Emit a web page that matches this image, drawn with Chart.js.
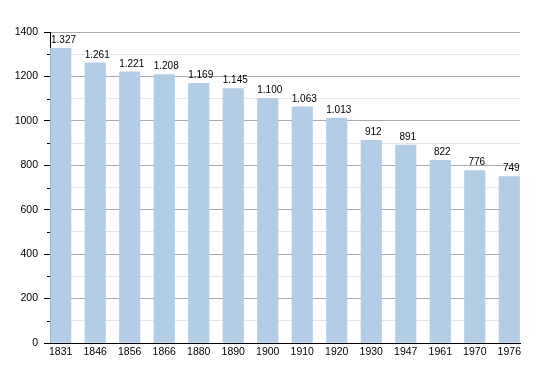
<!DOCTYPE html>
<html><head><meta charset="utf-8">
<script src="https://cdn.jsdelivr.net/npm/chart.js@4/dist/chart.umd.min.js"></script>
<style>html,body{margin:0;padding:0;background:#fff}#w{width:550px;height:373px}</style>
</head><body><div id="w"><canvas id="c"></canvas></div>
<script>
const years = ['1831','1846','1856','1866','1880','1890','1900','1910','1920','1930','1947','1961','1970','1976'];
const population = [1327,1261,1221,1208,1169,1145,1100,1063,1013,912,891,822,776,749];
const yMin = 0, yMax = 1400, yStep = 100, yLabelStep = 200;

const FONT = 'Liberation Sans, Arial, Helvetica, sans-serif';
function fmt(v){ return String(v).replace(/\B(?=(\d{3})+(?!\d))/g, '.'); }

const labelPlugin = {
  id: 'lbl',
  afterDraw(chart){
    const ctx = chart.ctx, meta = chart.getDatasetMeta(0), y = chart.scales.y;
    ctx.save();
    ctx.font = '10px ' + FONT;
    ctx.fillStyle = '#000';
    ctx.textAlign = 'left';
    ctx.textBaseline = 'bottom';
    meta.data.forEach((el, i) => {
      const t = fmt(population[i]);
      const w = ctx.measureText(t).width;
      let x = el.x - w / 2 + 2;
      if (x < chart.chartArea.left + 1) x = chart.chartArea.left + 1;
      ctx.fillText(t, x, el.y - 3);
    });
    ctx.strokeStyle = '#000';
    ctx.lineWidth = 1;
    for (let v = yMin; v <= yMax; v += yStep) {
      if (v % yLabelStep === 0) continue;
      const py = Math.round(y.getPixelForValue(v)) + 0.5;
      ctx.beginPath(); ctx.moveTo(y.right - 3, py); ctx.lineTo(y.right, py); ctx.stroke();
    }
    ctx.restore();
  }
};

new Chart(document.getElementById('c'), {
  type: 'bar',
  data: {
    datasets: [{
      data: population.map((v, i) => ({x: i, y: v})),
      backgroundColor: '#b3cde6',
      borderWidth: 0,
      barThickness: 20.5
    }]
  },
  options: {
    responsive: true, maintainAspectRatio: false, animation: false,
    devicePixelRatio: 1,
    layout: {padding: {top: 32, right: 30, left: 0, bottom: 0}},
    plugins: {legend: {display: false}, tooltip: {enabled: false}},
    scales: {
      x: {
        type: 'linear', min: -0.31, max: 13.31, offset: false,
        afterBuildTicks: (s) => { s.ticks = years.map((_, i) => ({value: i})); },
        afterFit: (s) => { s.height = 30; },
        grid: {display: false, drawTicks: false},
        border: {display: true, color: '#000', width: 1},
        ticks: {
          autoSkip: false, maxRotation: 0, padding: 3,
          color: '#000', font: {family: FONT, size: 10.5},
          callback: (v) => years[v]
        }
      },
      y: {
        min: yMin, max: yMax,
        afterFit: (s) => { s.width = 50; },
        border: {display: true, color: '#000', width: 1},
        grid: {
          color: (c) => c.tick.value === 0 ? 'rgba(0,0,0,0)' : (c.tick.value % yLabelStep === 0 ? '#aaaaaa' : '#e6e6e6'),
          tickColor: (c) => c.tick.value % yLabelStep === 0 ? '#000' : 'rgba(0,0,0,0)',
          tickLength: 6
        },
        ticks: {
          stepSize: yStep, padding: 6,
          color: '#000', font: {family: FONT, size: 10.5},
          callback: (v) => v % yLabelStep === 0 ? String(v) : ''
        }
      }
    }
  },
  plugins: [labelPlugin]
});
</script></body></html>
